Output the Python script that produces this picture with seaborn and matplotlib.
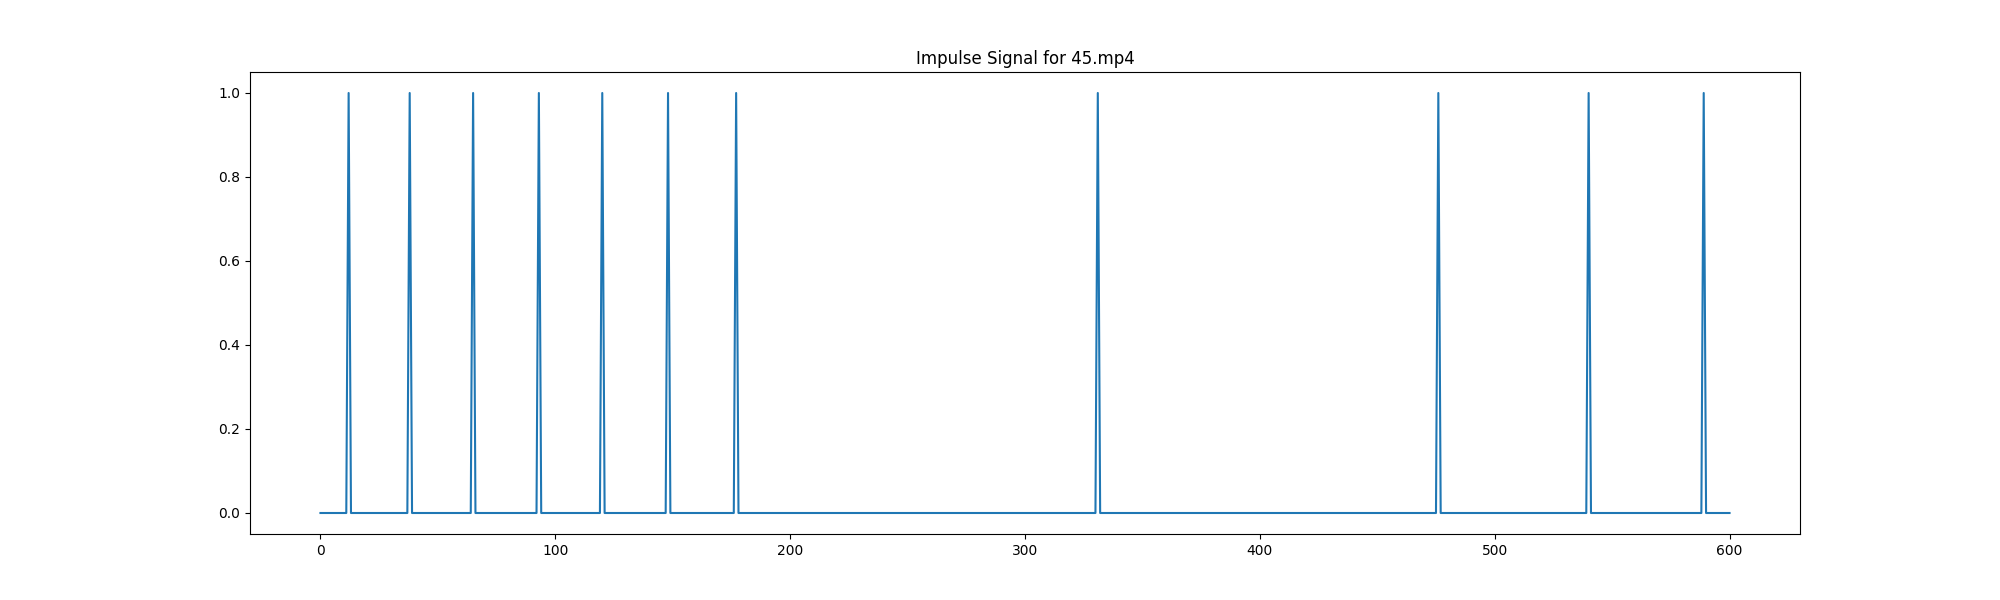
import numpy as np
import pandas as pd
import matplotlib
matplotlib.use("Agg")
import matplotlib.pyplot as plt
import seaborn as sns

# frame indices where an impulse (value 1) occurs, signal is 0 elsewhere
n_frames = 601
impulse_frames = [12, 38, 65, 93, 120, 148, 177, 331, 476, 540, 589]

signal = np.zeros(n_frames)
signal[impulse_frames] = 1.0
df = pd.DataFrame({"frame": np.arange(n_frames), "value": signal})

fig, ax = plt.subplots(figsize=(20, 6), dpi=100)
sns.lineplot(x="frame", y="value", data=df, ax=ax, color="#1f77b4", linewidth=1.5)

ax.set_title("Impulse Signal for 45.mp4")
ax.set_xlabel("")
ax.set_ylabel("")

plt.savefig("out.png", dpi=100)
